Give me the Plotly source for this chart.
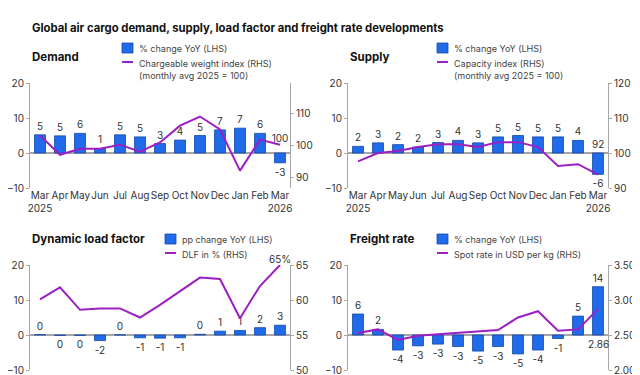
import plotly.graph_objects as go

months = ["Mar<br>2025", "Apr", "May", "Jun", "Jul", "Aug", "Sep", "Oct", "Nov", "Dec", "Jan", "Feb", "Mar<br>2026"]

demand_yoy = [5.2, 4.9, 5.6, 1.3, 5.2, 4.6, 2.7, 3.7, 5.0, 6.6, 7.1, 5.6, -2.8]
demand_idx = [103.2, 97.1, 99.0, 99.0, 100.3, 98.1, 101.0, 106.3, 109.2, 105.1, 92.1, 101.9, 100.3]

supply_yoy = [1.9, 2.9, 2.4, 1.7, 3.0, 3.6, 2.9, 4.6, 5.0, 4.6, 4.6, 3.6, -6.1]
supply_idx = [97.6, 100.0, 100.6, 101.7, 102.5, 102.5, 101.7, 103.1, 103.1, 101.7, 96.3, 96.8, 93.8]
supply_last_label = "92"

dlf_yoy = [0.1, -0.1, -0.1, -1.6, 0.05, -0.8, -0.9, -0.8, 0.2, 1.1, 1.3, 2.1, 2.8]
dlf_pct = [60.1, 61.8, 58.6, 58.8, 58.8, 57.5, 59.3, 61.3, 63.2, 63.0, 57.4, 62.0, 65.0]

rate_yoy = [6.0, 1.6, -4.3, -3.1, -2.6, -3.3, -4.6, -3.3, -5.4, -4.3, -1.0, 5.4, 13.8]
spot_rate = [2.53, 2.58, 2.43, 2.49, 2.51, 2.53, 2.55, 2.57, 2.75, 2.84, 2.56, 2.58, 2.87]
spot_last_label = "2.86"

BLUE = "#1F6BEA"
BLUE_EDGE = "#1747A8"
PURPLE = "#9C1FC4"
GRAY = "#A6A6A6"
TXT = "#333333"
FONT = "Inter"

# page body has an 8px margin; size the figure so it fits the 640x375 window
OFF = 8
W, H = 640 - OFF, 375 - OFF
def px(x):
    return (x - OFF) / W
def py(y):
    return 1 - (y - OFF) / H

fig = go.Figure()

panels = [
    dict(name="Demand", yoy=demand_yoy, line=demand_idx, rr=[86.6, 119.8], rt=[90, 100, 110, 120], rtt=["90", "100", "110", "120"],
         x0=30, x1=290, y0=83, y1=188, leg=("% change YoY (LHS)", "Chargeable weight index (RHS)<br>(monthly avg 2025 = 100)"), lx=122,
         last=f"{demand_idx[-1]:.0f}"),
    dict(name="Supply", yoy=supply_yoy, line=supply_idx, rr=[90, 120], rt=[90, 100, 110, 120], rtt=["90", "100", "110", "120"],
         x0=348, x1=608, y0=83, y1=188, leg=("% change YoY (LHS)", "Capacity index (RHS)<br>(monthly avg 2025 = 100)"), lx=437,
         last=supply_last_label),
    dict(name="Dynamic load factor", yoy=dlf_yoy, line=dlf_pct, rr=[50, 65], rt=[50, 55, 60, 65], rtt=["50", "55", "60", "65"],
         x0=30, x1=290, y0=265, y1=370, leg=("pp change YoY (LHS)", "DLF in % (RHS)"), lx=165,
         last=f"{dlf_pct[-1]:.0f}%"),
    dict(name="Freight rate", yoy=rate_yoy, line=spot_rate, rr=[2.0, 3.5], rt=[2.0, 2.5, 3.0, 3.5], rtt=["2.00", "2.50", "3.00", "3.50"],
         x0=348, x1=608, y0=265, y1=370, leg=("% change YoY (LHS)", "Spot rate in USD per kg (RHS)"), lx=437,
         last=spot_last_label),
]

annotations = []
shapes = []
layout = {}
for i, p in enumerate(panels):
    xa = "x" if i == 0 else f"x{i+1}"
    yl = "y" if i == 0 else f"y{2*i+1}"
    yr = f"y{2*i+2}"
    xkey = "xaxis" if i == 0 else f"xaxis{i+1}"
    ylkey = "yaxis" if i == 0 else f"yaxis{2*i+1}"
    yrkey = f"yaxis{2*i+2}"
    top = p["y0"] < 200

    bar_text = [f"{round(v)}" for v in p["yoy"]]
    fig.add_trace(go.Bar(x=months, y=p["yoy"], xaxis=xa, yaxis=yl, marker=dict(color=BLUE, line=dict(color=BLUE_EDGE, width=0.8)),
                         text=bar_text, textposition="outside", textfont=dict(size=10, color=TXT, family=FONT),
                         cliponaxis=False, showlegend=False, width=0.55))
    line_text = [""] * (len(months) - 1)
    if i in (0, 2):
        line_text.append(p["last"])
        mode = "lines+text"
    else:
        line_text.append("")
        mode = "lines"
    fig.add_trace(go.Scatter(x=months, y=p["line"], xaxis=xa, yaxis=yr, mode=mode, line=dict(color=PURPLE, width=2),
                             text=line_text, textposition="top center", textfont=dict(size=10, color=TXT, family=FONT),
                             cliponaxis=False, showlegend=False))
    if i in (1, 3):
        annotations.append(dict(x=months[-1], y=0, xref=xa, yref=yl, text=p["last"], showarrow=False,
                                yshift=9 if i == 1 else -9, font=dict(size=10, color=TXT, family=FONT)))

    layout[xkey] = dict(domain=[px(p["x0"]), px(p["x1"])], anchor=yl, range=[-0.5, 12.5], showgrid=False, showline=False,
                        ticks="", tickangle=0, showticklabels=top, automargin=False,
                        tickfont=dict(size=10, color=TXT, family=FONT), fixedrange=True)
    layout[ylkey] = dict(domain=[py(p["y1"]), py(p["y0"])], anchor=xa, range=[-10, 20], tickvals=[-10, 0, 10, 20],
                         showgrid=False, showline=True, linecolor=GRAY, linewidth=1, ticks="outside", ticklen=3, tickcolor=GRAY,
                         automargin=False, ticklabeloverflow="allow",
                         zeroline=True, zerolinecolor=GRAY, zerolinewidth=1.5, tickfont=dict(size=10, color=TXT, family=FONT))
    layout[yrkey] = dict(domain=[py(p["y1"]), py(p["y0"])], anchor=xa, overlaying=yl, side="right", range=p["rr"],
                         tickvals=p["rt"], ticktext=p["rtt"], showgrid=False, showline=True, linecolor=GRAY, linewidth=1,
                         automargin=False, ticklabeloverflow="allow",
                         ticks="outside", ticklen=3, tickcolor=GRAY, zeroline=False, tickfont=dict(size=10, color=TXT, family=FONT))

    ty = 57 if top else 239
    annotations.append(dict(x=px(p["x0"]), y=py(ty), xref="paper", yref="paper", text=f"<b>{p['name']}</b>", showarrow=False,
                            xanchor="left", yanchor="middle", font=dict(size=11.5, color="#111111", family=FONT)))
    ly1 = 48 if top else 239
    ly2 = ly1 + 14
    lx = p["lx"]
    shapes.append(dict(type="rect", xref="paper", yref="paper", x0=px(lx), x1=px(lx + 11), y0=py(ly1 + 5), y1=py(ly1 - 5),
                       fillcolor=BLUE, line=dict(color=BLUE_EDGE, width=0.8)))
    shapes.append(dict(type="line", xref="paper", yref="paper", x0=px(lx), x1=px(lx + 11), y0=py(ly2), y1=py(ly2),
                       line=dict(color=PURPLE, width=2)))
    annotations.append(dict(x=px(lx + 15), y=py(ly1), xref="paper", yref="paper", text=p["leg"][0], showarrow=False,
                            xanchor="left", yanchor="middle", font=dict(size=9, color="#444444", family=FONT)))
    annotations.append(dict(x=px(lx + 15), y=py(ly2 - 6), xref="paper", yref="paper", text=p["leg"][1], showarrow=False,
                            xanchor="left", yanchor="top", align="left", font=dict(size=9, color="#444444", family=FONT)))

annotations.append(dict(x=px(30), y=py(28), xref="paper", yref="paper",
                        text="<b>Global air cargo demand, supply, load factor and freight rate developments</b>", showarrow=False,
                        xanchor="left", yanchor="middle", font=dict(size=11.3, color="#111111", family=FONT)))

fig.update_layout(width=W, height=H, margin=dict(l=0, r=0, t=0, b=0, autoexpand=False), paper_bgcolor="white", plot_bgcolor="white",
                  annotations=annotations, shapes=shapes, bargap=0.45, font=dict(family=FONT), **layout)

fig.write_html("out.html")
